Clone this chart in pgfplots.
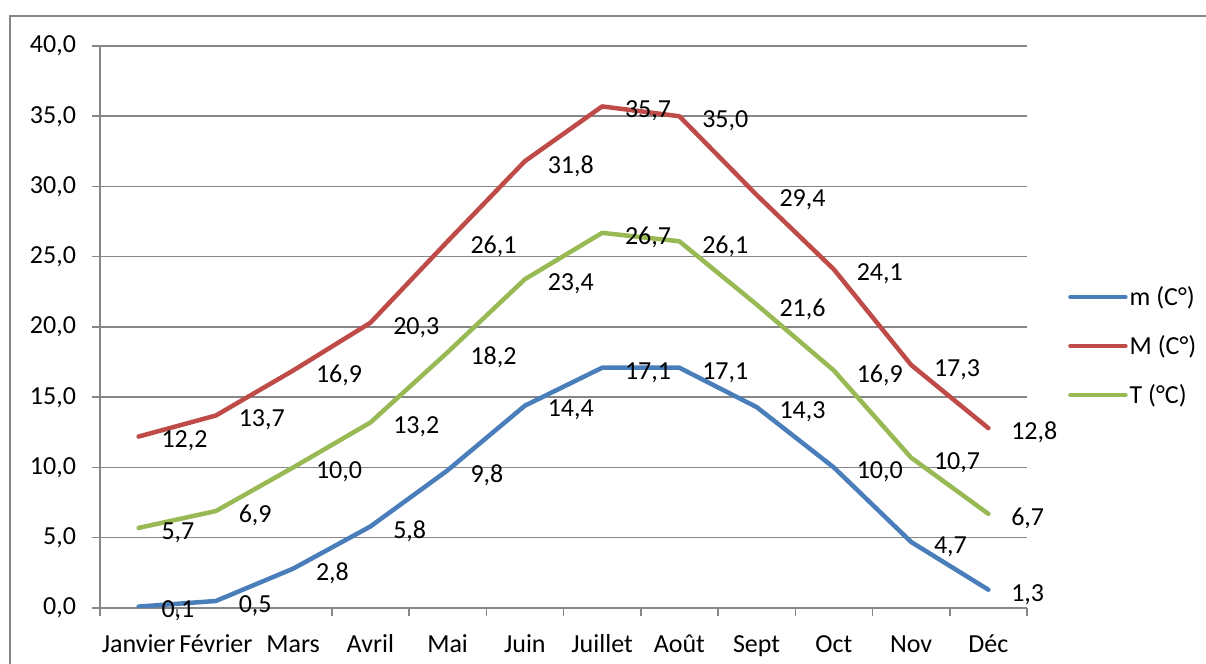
\documentclass[border=0pt]{standalone}
\usepackage{fontspec}
\setmainfont{Carlito}
\usepackage{pgfplots}
\pgfplotsset{compat=1.18}

\definecolor{cmin}{HTML}{4A7EBB}
\definecolor{cmax}{HTML}{BE4B48}
\definecolor{cmoy}{HTML}{98B954}
\definecolor{gridc}{HTML}{868686}

\newcommand{\lblfont}{\fontsize{13}{15.6}\selectfont}

\begin{document}
\begin{tikzpicture}
\begin{axis}[
    name=ax,
    at={(0,0)}, anchor=south west,
    scale only axis,
    width=463.5pt, height=281pt,
    xmin=-0.5, xmax=11.5,
    ymin=0, ymax=40,
    ytick={0,5,...,40},
    xtick={-0.5,0.5,1.5,2.5,3.5,4.5,5.5,6.5,7.5,8.5,9.5,10.5,11.5},
    xticklabels={Janvier,Février,Mars,Avril,Mai,Juin,Juillet,Août,Sept,Oct,Nov,Déc,{}},
    xticklabel style={xshift=19.3125pt, yshift=-5pt, text height=9.5pt, text depth=2.5pt},
    axis x line=bottom, axis y line=left,
    axis line style={-, gridc, line width=0.75pt},
    tick style={gridc, line width=0.75pt},
    tick align=outside,
    major tick length=4pt,
    ymajorgrids,
    grid style={gridc, line width=0.75pt},
    tick label style={font=\lblfont, black},
    yticklabel style={xshift=-4.5pt},
    /pgf/number format/.cd, fixed, fixed zerofill, precision=1, use comma, assume math mode=true,
    /pgfplots/.cd,
    nodes near coords,
    every node near coord/.append style={anchor=west, xshift=7pt, yshift=-2.3pt, text=black, font=\lblfont},
    legend cell align=left,
    legend image code/.code={\draw[#1, line cap=round] (0pt,0pt) -- (27.5pt,0pt);},
    legend style={draw=none, fill=none, at={(1.0375,0.466)}, anchor=west, font=\lblfont, row sep=9.5pt, column sep=-1pt},
]
\addplot[cmin, line width=2.25pt, line join=round, line cap=round] coordinates {
(0,0.1) (1,0.5) (2,2.8) (3,5.8) (4,9.8) (5,14.4) (6,17.1) (7,17.1) (8,14.3) (9,10.0) (10,4.7) (11,1.3)};
\addlegendentry{m (C°)}
\addplot[cmax, line width=2.25pt, line join=round, line cap=round] coordinates {
(0,12.2) (1,13.7) (2,16.9) (3,20.3) (4,26.1) (5,31.8) (6,35.7) (7,35.0) (8,29.4) (9,24.1) (10,17.3) (11,12.8)};
\addlegendentry{M (C°)}
\addplot[cmoy, line width=2.25pt, line join=round, line cap=round] coordinates {
(0,5.7) (1,6.9) (2,10.0) (3,13.2) (4,18.2) (5,23.4) (6,26.7) (7,26.1) (8,21.6) (9,16.9) (10,10.7) (11,6.7)};
\addlegendentry{T (°C)}
\end{axis}
\draw[gridc, line width=1pt] ([shift={(-45pt,-40pt)}]ax.south west) -- ([shift={(-45pt,296pt)}]ax.south west) -- ([shift={(560pt,296pt)}]ax.south west);
\pgfresetboundingbox
\path ([shift={(-50pt,-28pt)}]ax.south west) rectangle ([shift={(553pt,304pt)}]ax.south west);
\end{tikzpicture}
\end{document}
